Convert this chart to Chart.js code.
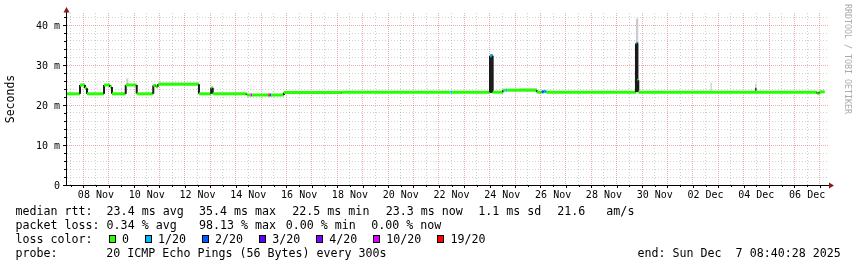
<!DOCTYPE html>
<html>
<head>
<meta charset="utf-8">
<title>SmokePing latency - 30 days</title>
<script src="https://cdn.jsdelivr.net/npm/chart.js"></script>
<style>
    body { margin: 0; background: #fff; }
    #wrap { position: relative; width: 857px; height: 267px; overflow: hidden; }
    #graph { position: absolute; left: 0; top: 0; }
    .lg { position: absolute; font-family: "DejaVu Sans Mono", monospace; font-size: 11.65px; line-height: 14px; white-space: pre; color: #000; }
    .box { position: absolute; width: 5px; height: 6px; border: 1px solid #000; }
    #mark { position: absolute; left: 843px; top: 4px; writing-mode: vertical-rl; line-height: 9px;
            font-family: "DejaVu Sans Mono", monospace; font-size: 8.3px; color: #aaa; white-space: pre; }
</style>
</head>
<body>
<div id="wrap">
    <canvas id="graph" width="857" height="267"></canvas>
    <div id="mark">RRDTOOL / TOBI OETIKER</div>
</div>
<script>
// time axis is in hours from the graph start (Nov 7 08:40) to the end (Dec 7 08:40)
var X_MAX = 720;
var DATA_END = 716;
var FIRST_NOON = 10 / 3;   // Nov 7 12:00

var dayLabels = ['08 Nov', '10 Nov', '12 Nov', '14 Nov', '16 Nov', '18 Nov', '20 Nov', '22 Nov',
                 '24 Nov', '26 Nov', '28 Nov', '30 Nov', '02 Dec', '04 Dec', '06 Dec'];
var yTicks = [0, 2, 4, 6, 8, 10, 12, 14, 16, 18, 20, 22, 24, 26, 28, 30, 32, 34, 36, 38, 40, 42];

// median rtt (ms): each level starts at medT[i] and holds until the next one
var medT = [0, 12.3, 17.0, 18.9, 35.0, 40.6, 42.5, 55.5, 65.9, 81.5,
            84.0, 86.0, 124.7, 136.2, 137.7, 169.8, 173.5, 175.2, 190.2, 191.6,
            193.0, 205.0, 260.0, 362.5, 364.0, 399.7, 402.2, 412.0, 414.4, 416.0,
            444.0, 448.6, 450.6, 453.0, 537.6, 538.8, 539.8, 709.0, 711.0];
var medV = [22.8, 25.0, 24.2, 22.8, 25.0, 24.5, 22.8, 25.0, 22.8, 24.9,
            24.6, 25.2, 22.8, 24.3, 22.8, 22.5, 22.5, 22.5, 22.5, 22.5,
            22.5, 23.1, 23.2, 23.2, 23.2, 32.3, 23.2, 23.7, 23.7, 23.7,
            23.2, 23.3, 23.4, 23.2, 35.4, 26.2, 23.2, 22.9, 23.3];
// index into lossLabels / lossColors
var medLoss = [0, 0, 0, 0, 0, 0, 0, 0, 0, 0,
               0, 0, 0, 0, 0, 0, 5, 0, 6, 2,
               0, 0, 0, 1, 0, 1, 0, 0, 1, 0,
               0, 2, 1, 0, 1, 0, 0, 0, 0];

// smoke: light = full ping spread, dark = dense part
var smokeT  = [0, 56.0, 58.0, 86.0, 124.7, 428.0, 444.0, 537.6, 539.8, 608.0, 609.2, 650.2, 651.5];
var smokeLo = [22.8, 25.0, 25.0, 25.1, 22.8, 23.7, 23.2, 35.4, 23.2, 23.5, 23.2, 24.3, 23.2];
var smokeHi = [22.8, 26.6, 25.0, 25.6, 22.8, 24.2, 23.2, 41.6, 23.2, 25.6, 23.2, 25.4, 23.2];
var darkT  = [0, 399.7, 402.2, 537.6, 539.8, 650.2, 651.5];
var darkLo = [23.0, 23.0, 23.0, 23.3, 23.2, 23.4, 23.2];
var darkHi = [23.0, 32.6, 23.0, 35.6, 23.2, 24.3, 23.2];

var lossLabels = ['0', '1/20', '2/20', '3/20', '4/20', '10/20', '19/20'];
var lossColors = ['#26ff00', '#00b8ff', '#0059ff', '#5e00ff', '#7e00ff', '#dd00ff', '#ff0000'];

var rttStats = [23.4, 35.4, 22.5, 23.3, 1.1];   // avg, max, min, now, sd
var rttAmS = 21.6;
var lossStats = [0.34, 98.13, 0.00, 0.00];      // avg, max, min, now
var probeText = '20 ICMP Echo Pings (56 Bytes) every 300s';
var endText = 'end: Sun Dec  7 08:40:28 2025';

var RED = 'rgba(226, 90, 90, 0.5)';
var GRAY = 'rgba(150, 150, 150, 0.45)';

function steps(t, v) {
    var pts = [];
    for (var i = 0; i < t.length; i++) {
        var end = i + 1 < t.length ? t[i + 1] : DATA_END;
        pts.push({x: t[i], y: v[i]});
        pts.push({x: end, y: v[i]});
    }
    return pts;
}

var xTickHours = [];
for (var h = FIRST_NOON; h <= X_MAX; h += 12) xTickHours.push(h);

function isMidnight(v) {
    var k = (v - FIRST_NOON - 12) / 24;
    return Math.abs(k - Math.round(k)) < 1e-6;
}
function dayLabel(v) {
    for (var i = 0; i < dayLabels.length; i++) {
        if (Math.abs(FIRST_NOON + 24 + 48 * i - v) < 1e-6) return dayLabels[i];
    }
    return '';
}

var rrdAxes = {
    id: 'rrdAxes',
    afterDraw: function (chart) {
        var ctx = chart.ctx;
        var ys = chart.scales.y, xs = chart.scales.x;
        ctx.save();
        ctx.strokeStyle = '#000';
        ctx.lineWidth = 1;
        ctx.beginPath();
        ctx.moveTo(66.5, 186); ctx.lineTo(66.5, 11);
        ctx.moveTo(63, 185.5); ctx.lineTo(830, 185.5);
        yTicks.forEach(function (v) {
            if (v === 0) return;
            var py = Math.round(ys.getPixelForValue(v)) + 0.5;
            var len = v % 10 === 0 ? 3 : 2;
            ctx.moveTo(66 - len, py); ctx.lineTo(66, py);
        });
        xTickHours.forEach(function (v) {
            var px = Math.round(xs.getPixelForValue(v)) + 0.5;
            ctx.moveTo(px, 186); ctx.lineTo(px, isMidnight(v) ? 188 : 187);
        });
        ctx.stroke();
        ctx.fillStyle = '#8b1a1a';
        ctx.beginPath();
        ctx.moveTo(66.5, 7); ctx.lineTo(63.5, 12.5); ctx.lineTo(69.5, 12.5); ctx.closePath();
        ctx.moveTo(834, 185.5); ctx.lineTo(829, 182.5); ctx.lineTo(829, 188.5); ctx.closePath();
        ctx.fill();
        ctx.restore();
    }
};

var medPts = steps(medT, medV);

new Chart(document.getElementById('graph'), {
    type: 'line',
    data: {
        datasets: [
            {
                data: medPts, order: 0, borderWidth: 3, borderColor: lossColors[0],
                borderCapStyle: 'butt', pointRadius: 0, fill: false,
                segment: {
                    borderColor: function (c) {
                        if (c.p0DataIndex % 2 === 1) return '#1a1a1a';
                        return lossColors[medLoss[c.p0DataIndex / 2]];
                    },
                    borderWidth: function (c) { return c.p0DataIndex % 2 === 1 ? 2 : 3; }
                }
            },
            { data: steps(darkT, darkLo), order: 1, borderWidth: 0, pointRadius: 0, fill: false },
            { data: steps(darkT, darkHi), order: 1, borderWidth: 0, pointRadius: 0, fill: '-1', backgroundColor: '#262626' },
            { data: steps(smokeT, smokeLo), order: 2, borderWidth: 0, pointRadius: 0, fill: false },
            { data: steps(smokeT, smokeHi), order: 2, borderWidth: 0, pointRadius: 0, fill: '-1', backgroundColor: '#cccccc' }
        ]
    },
    options: {
        responsive: false,
        animation: false,
        devicePixelRatio: 1,
        events: [],
        layout: { padding: { left: 0, right: 28, top: 13, bottom: 62 } },
        plugins: { legend: { display: false }, tooltip: { enabled: false } },
        scales: {
            x: {
                type: 'linear', min: 0, max: X_MAX,
                afterBuildTicks: function (s) { s.ticks = xTickHours.map(function (v) { return {value: v}; }); },
                afterFit: function (s) { s.height = 20; },
                grid: {
                    drawTicks: false,
                    color: function (c) { return c.tick && isMidnight(c.tick.value) ? RED : GRAY; }
                },
                border: { display: false, dash: function (c) { return c.tick && isMidnight(c.tick.value) ? [1, 1] : [1, 2]; } },
                ticks: {
                    autoSkip: false, maxRotation: 0, minRotation: 0, padding: 4, color: '#000',
                    font: { family: 'DejaVu Sans Mono', size: 10 },
                    callback: function (v) { return dayLabel(v); }
                }
            },
            y: {
                type: 'linear', min: 0, max: 43,
                afterBuildTicks: function (s) { s.ticks = yTicks.map(function (v) { return {value: v}; }); },
                afterFit: function (s) { s.width = 67; },
                grid: {
                    drawTicks: false,
                    color: function (c) {
                        if (!c.tick || c.tick.value === 0) return 'rgba(0,0,0,0)';
                        return c.tick.value % 10 === 0 ? RED : GRAY;
                    }
                },
                border: { display: false, dash: function (c) { return c.tick && c.tick.value % 10 === 0 ? [1, 1] : [1, 2]; } },
                title: {
                    display: true, text: 'Seconds', color: '#000', padding: { top: 4, bottom: 0 },
                    font: { family: 'DejaVu Sans Mono', size: 11.5 }
                },
                ticks: {
                    autoSkip: false, padding: 7, labelOffset: 1, color: '#000',
                    font: { family: 'DejaVu Sans Mono', size: 10 },
                    callback: function (v) { return v % 10 !== 0 ? '' : (v === 0 ? '0' : v + ' m'); }
                }
            }
        }
    },
    plugins: [rrdAxes]
});

// legend below the graph
var wrap = document.getElementById('wrap');
function addText(x, top, text) {
    var d = document.createElement('div');
    d.className = 'lg';
    d.style.left = x + 'px';
    d.style.top = top + 'px';
    d.textContent = text;
    wrap.appendChild(d);
}
addText(15.5, 204, 'median rtt:  ' + rttStats[0].toFixed(1) + ' ms avg');
addText(199, 204, rttStats[1].toFixed(1) + ' ms max');
addText(292.3, 204, rttStats[2].toFixed(1) + ' ms min');
addText(385.7, 204, rttStats[3].toFixed(1) + ' ms now');
addText(478.3, 204, rttStats[4].toFixed(1) + ' ms sd');
addText(557.3, 204, rttAmS.toFixed(1) + '   am/s');

addText(15.5, 218, 'packet loss: ' + lossStats[0].toFixed(2) + ' % avg');
addText(199, 218, lossStats[1].toFixed(2) + ' % max');
addText(285.7, 218, lossStats[2].toFixed(2) + ' % min');
addText(371.3, 218, lossStats[3].toFixed(2) + ' % now');

addText(15.5, 232, 'loss color:');
var bx = 109;
lossLabels.forEach(function (lbl, i) {
    var b = document.createElement('div');
    b.className = 'box';
    b.style.left = bx + 'px';
    b.style.top = '235px';
    b.style.background = lossColors[i];
    wrap.appendChild(b);
    addText(bx + 13, 232, lbl);
    bx += 13 + lbl.length * 7.02 + 16;
});

addText(15.5, 246, 'probe:');
addText(106.3, 246, probeText);
addText(637.5, 246, endText);
</script>
</body>
</html>
